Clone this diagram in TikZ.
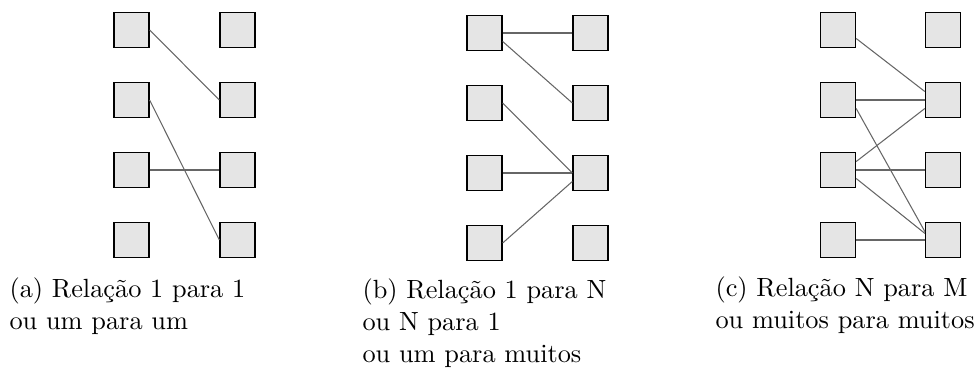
\documentclass[tikz,border=0pt]{standalone}
\usepackage{tikz}

\begin{document}
\begin{tikzpicture}[x=0.38pt,y=-0.38pt,
  caixa/.style={draw,fill=gray!20,minimum size=13.3pt,inner sep=0pt,line width=0.5pt},
  liga/.style={draw=black!60,line width=0.4pt},
  legenda/.style={align=left,anchor=base west,inner sep=0pt}]
\useasboundingbox (0,0) rectangle (979,370);

% caixas: E = esquerda, D = direita
\foreach \i in {1,...,4}{
  \node[caixa] (aE\i) at (131.5,{30+70*(\i-1)}) {};
  \node[caixa] (aD\i) at (237.5,{30+70*(\i-1)}) {};
  \node[caixa] (bE\i) at (484.5,{33+70*(\i-1)}) {};
  \node[caixa] (bD\i) at (590.5,{33+70*(\i-1)}) {};
  \node[caixa] (cE\i) at (838,{30+70*(\i-1)}) {};
  \node[caixa] (cD\i) at (943,{30+70*(\i-1)}) {};
}

% (a) 1 para 1
\draw[liga] (aE1.east) -- (aD2.west);
\draw[liga] (aE2.east) -- (aD4.west);
\draw[liga] (aE3.east) -- (aD3.west);

% (b) 1 para N
\draw[liga] (bE1.east) -- (bD1.west);
\draw[liga] (bE1.-25) -- (bD2.west);
\draw[liga] (bE2.east) -- (bD3.west);
\draw[liga] (bE3.east) -- (bD3.west);
\draw[liga] (bE4.east) -- (bD3.205);

% (c) N para M
\draw[liga] (cE1.-25) -- (cD2.155);
\draw[liga] (cE2.east) -- (cD2.west);
\draw[liga] (cE2.-25) -- (cD4.155);
\draw[liga] (cE3.25) -- (cD2.205);
\draw[liga] (cE3.east) -- (cD3.west);
\draw[liga] (cE3.-25) -- (cD4.160);
\draw[liga] (cE4.east) -- (cD4.west);

% legendas (ancoradas na linha de base da ultima linha)
\node[legenda] (legA) at (9,329.5) {(a) Relação 1 para 1\\ou um para um};
\node[legenda] (legB) at (362,362) {(b) Relação 1 para N\\ou N para 1\\ou um para muitos};
\node[legenda] (legC) at (715,328.5) {(c) Relação N para M\\ou muitos para muitos};

\end{tikzpicture}
\end{document}
